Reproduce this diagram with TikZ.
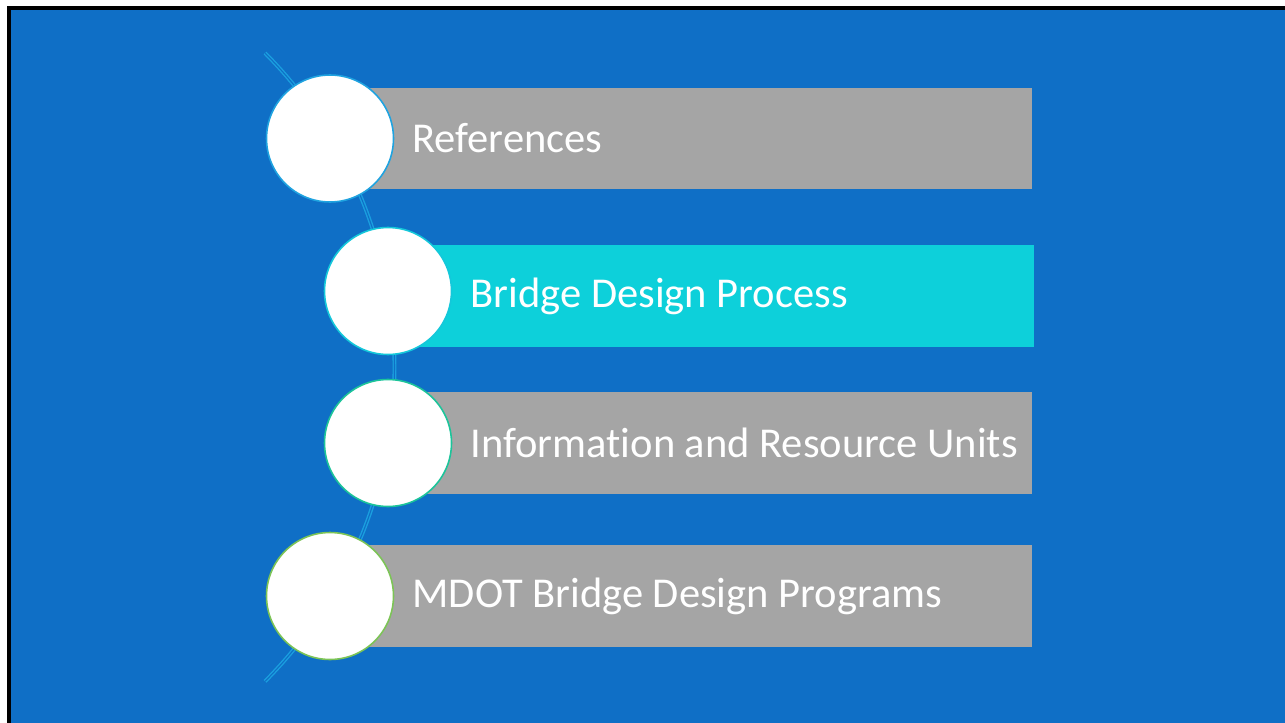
\documentclass[tikz,border=0pt]{standalone}
\usepackage{fontspec}
\setmainfont{Carlito}[Ligatures=NoCommon]
\usepackage{tikz}
\usetikzlibrary{positioning}
\usepackage{xcolor}

\definecolor{slideblue}{HTML}{0F6FC6}
\definecolor{bargray}{HTML}{A5A5A5}
\definecolor{barcyan}{HTML}{0DD0DA}
\definecolor{arcline}{HTML}{1A9FDF}
\definecolor{ringA}{HTML}{1FA3E0}
\definecolor{ringB}{HTML}{14C8DA}
\definecolor{ringC}{HTML}{1CC49A}
\definecolor{ringD}{HTML}{7CC456}

\begin{document}
\begin{tikzpicture}[
  x=0.02cm, y=-0.02cm,
  font=\fontsize{24.2}{28}\selectfont,
  bar/.style={rectangle, anchor=west, inner sep=0pt, minimum height=2.04cm},
  disc/.style={circle, fill=white, draw, line width=0.9pt, inner sep=0pt, minimum size=2.54cm},
  lbl/.style={text=white, inner sep=0pt, anchor=west}
]
\useasboundingbox (0,0) rectangle (1285,723);
\fill[white] (0,0) rectangle (1285,723);
\fill[slideblue] (9,9) rectangle (1285,723);
\draw[black, line width=0.07cm] (9,723) -- (9,8) -- (1285,8);

% curved spine behind the discs
\coordinate (top) at (265,53);
\draw[arcline, double=slideblue, double distance=0.6pt, line width=0.8pt]
  (top) arc[start angle=44.8, end angle=-44.8, radius=8.92cm] coordinate (bot);

% disc centres
\coordinate (p1) at (330,138.5);
\coordinate (p2) at (388,291);
\coordinate (p3) at (388,443);
\coordinate (p4) at (330,596);

\node[bar, fill=bargray, minimum width=14.04cm] (b1) at (p1) {};
\node[bar, fill=barcyan, minimum width=12.92cm] (b2) at ([yshift=-0.1cm]p2) {};
\node[bar, fill=bargray, minimum width=12.88cm] (b3) at (p3) {};
\node[bar, fill=bargray, minimum width=14.04cm] (b4) at (p4) {};

\node[disc, draw=ringA] (c1) at (p1) {};
\node[disc, draw=ringB] (c2) at (p2) {};
\node[disc, draw=ringC] (c3) at (p3) {};
\node[disc, draw=ringD] (c4) at (p4) {};

\node[lbl] (t1) at ([xshift=0.36cm]c1.east |- b1) {References};
\node[lbl] (t2) at ([xshift=0.36cm]c2.east |- b2) {Bridge Design Process};
\node[lbl] (t3) at ([xshift=0.36cm]c3.east |- b3) {Information and Resource Units};
\node[lbl] (t4) at ([xshift=0.36cm]c4.east |- b4) {MDOT Bridge Design Programs};

\end{tikzpicture}
\end{document}
